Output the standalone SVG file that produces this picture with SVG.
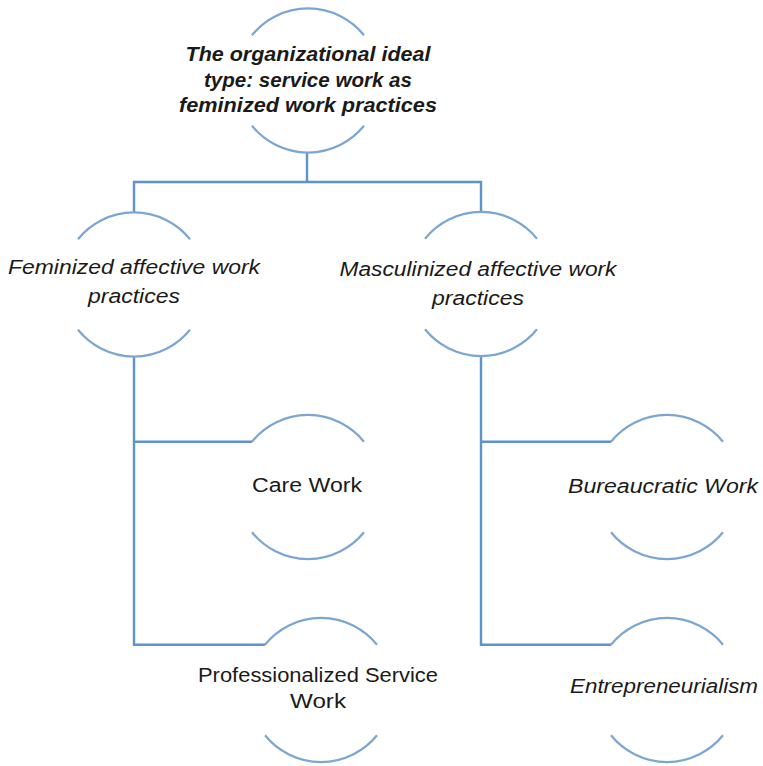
<svg xmlns="http://www.w3.org/2000/svg" width="763" height="766" viewBox="0 0 763 766">
<style>
.arc{fill:none;stroke:#7ba6d1;stroke-width:2.2}
.con{fill:none;stroke:#5e93cc;stroke-width:2.4}
text{font-family:"Liberation Sans",Arial,sans-serif;font-size:20px;fill:#1a1a1a;text-anchor:middle}
.it{font-style:italic}
.bi{font-style:italic;font-weight:bold}
</style>
<rect width="763" height="766" fill="#ffffff"/>
<g id="connectors">
<path class="con" d="M307 152.5 V182"/>
<path class="con" d="M134 212.5 V182 H481 V212"/>
<path class="con" d="M134 356 V644.7 H265"/>
<path class="con" d="M134 441.7 H252"/>
<path class="con" d="M481 356 V644.7 H611"/>
<path class="con" d="M481 441.7 H611"/>
</g>
<g id="node-root">
<path class="arc" d="M252 35.2 A72 72 0 0 1 364 35.2"/>
<path class="arc" d="M252 125.8 A72 72 0 0 0 364 125.8"/>
<text class="bi" x="308" y="61" textLength="245" lengthAdjust="spacingAndGlyphs">The organizational ideal</text>
<text class="bi" x="308" y="87" textLength="208" lengthAdjust="spacingAndGlyphs">type: service work as</text>
<text class="bi" x="308" y="112" textLength="258" lengthAdjust="spacingAndGlyphs">feminized work practices</text>
</g>
<g id="node-feminized">
<path class="arc" d="M78 239.2 A72 72 0 0 1 190 239.2"/>
<path class="arc" d="M78 329.8 A72 72 0 0 0 190 329.8"/>
<text class="it" x="134" y="274" textLength="252" lengthAdjust="spacingAndGlyphs">Feminized affective work</text>
<text class="it" x="134" y="303" textLength="92" lengthAdjust="spacingAndGlyphs">practices</text>
</g>
<g id="node-masculinized">
<path class="arc" d="M425 238.7 A72 72 0 0 1 537 238.7"/>
<path class="arc" d="M425 329.3 A72 72 0 0 0 537 329.3"/>
<text class="it" x="478" y="276" textLength="277" lengthAdjust="spacingAndGlyphs">Masculinized affective work</text>
<text class="it" x="478" y="305" textLength="92" lengthAdjust="spacingAndGlyphs">practices</text>
</g>
<g id="node-care">
<path class="arc" d="M252 441.7 A72 72 0 0 1 364 441.7"/>
<path class="arc" d="M252 532.3 A72 72 0 0 0 364 532.3"/>
<text x="307" y="492" textLength="110" lengthAdjust="spacingAndGlyphs">Care Work</text>
</g>
<g id="node-bureaucratic">
<path class="arc" d="M611 441.7 A72 72 0 0 1 723 441.7"/>
<path class="arc" d="M611 532.3 A72 72 0 0 0 723 532.3"/>
<text class="it" x="663" y="493" textLength="190" lengthAdjust="spacingAndGlyphs">Bureaucratic Work</text>
</g>
<g id="node-professionalized">
<path class="arc" d="M265 644.7 A72 72 0 0 1 377 644.7"/>
<path class="arc" d="M265 735.3 A72 72 0 0 0 377 735.3"/>
<text x="318" y="682" textLength="240" lengthAdjust="spacingAndGlyphs">Professionalized Service</text>
<text x="318" y="708" textLength="56" lengthAdjust="spacingAndGlyphs">Work</text>
</g>
<g id="node-entrepreneurialism">
<path class="arc" d="M611 644.7 A72 72 0 0 1 723 644.7"/>
<path class="arc" d="M611 735.3 A72 72 0 0 0 723 735.3"/>
<text class="it" x="664" y="693" textLength="188" lengthAdjust="spacingAndGlyphs">Entrepreneurialism</text>
</g>
</svg>
